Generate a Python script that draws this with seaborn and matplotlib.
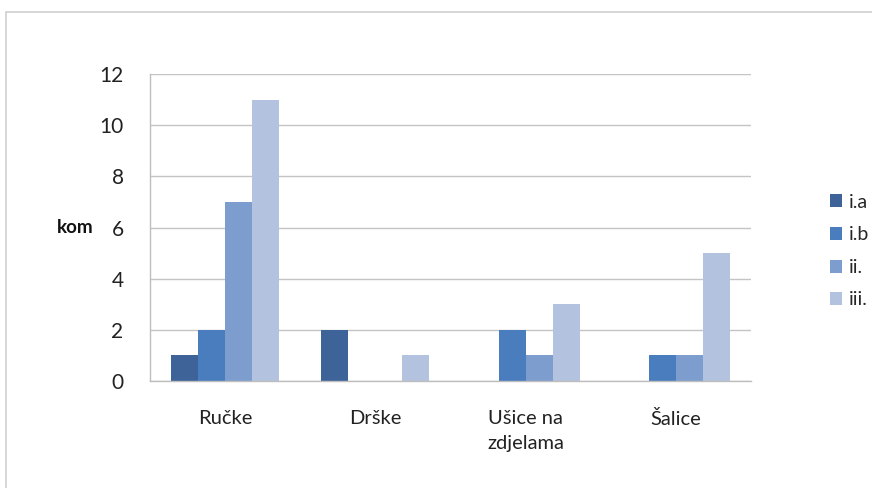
import matplotlib
matplotlib.use("Agg")
import matplotlib.pyplot as plt
from matplotlib.patches import Rectangle, Patch
import seaborn as sns
import pandas as pd

categories = ["Ručke", "Drške", "Ušice na\nzdjelama", "Šalice"]
series = ["i.a", "i.b", "ii.", "iii."]
values = {
    "i.a": [1, 2, 0, 0],
    "i.b": [2, 0, 2, 1],
    "ii.": [7, 0, 1, 1],
    "iii.": [11, 1, 3, 5],
}
colors = ["#3D6399", "#4A7DBE", "#7E9DCF", "#B3C2DE"]
yticks = [0, 2, 4, 6, 8, 10, 12]

rows = [(c, s, values[s][i]) for s in series for i, c in enumerate(categories)]
df = pd.DataFrame(rows, columns=["kategorija", "serija", "kom"])

sns.set_style("white")
plt.rcParams["font.family"] = ["Lato", "DejaVu Sans"]

fig = plt.figure(figsize=(8.72, 4.88), dpi=100)
ax = fig.add_axes([150 / 872, 1 - 381 / 488, 601 / 872, 307 / 488])

sns.barplot(data=df, x="kategorija", y="kom", hue="serija", order=categories,
            hue_order=series, palette=colors, width=0.72, saturation=1,
            legend=False, ax=ax, linewidth=0)

ax.set_ylim(0, 12)
ax.set_xlim(-0.5, len(categories) - 0.5)
ax.set_yticks(yticks)
ax.set_yticklabels([str(t) for t in yticks])
ax.yaxis.grid(True, color="#C4C4C4", linewidth=1)
ax.set_axisbelow(True)
for side in ("top", "right"):
    ax.spines[side].set_visible(False)
for side in ("left", "bottom"):
    ax.spines[side].set_color("#BDBDBD")
    ax.spines[side].set_linewidth(1)

ax.set_xlabel("")
ax.set_ylabel("kom", rotation=0, fontsize=13.5, fontweight="bold", color="#111111",
              ha="center", va="center")
ax.yaxis.set_label_coords(-75 / 601, 0.5)

ax.tick_params(axis="y", length=5, width=1, color="#BDBDBD", pad=14,
               labelsize=15, labelcolor="#222222")
ax.tick_params(axis="x", which="major", length=0, pad=21,
               labelsize=14.5, labelcolor="#222222")
for lbl in ax.get_xticklabels():
    lbl.set_linespacing(1.55)
ax.set_xticks([i - 0.5 for i in range(len(categories) + 1)], minor=True)
ax.tick_params(axis="x", which="minor", length=5, width=1, color="#BDBDBD")

# chart area frame
fig.patches.append(Rectangle((6 / 872, -0.01), 2, 1 - 12 / 488 + 0.01,
                             transform=fig.transFigure, fill=False,
                             edgecolor="#D0D0D0", linewidth=1.2))

handles = [Patch(facecolor=c, edgecolor="none") for c in colors]
fig.legend(handles, series, loc="upper left",
           bbox_to_anchor=(822 / 872, 1 - 186 / 488), frameon=False,
           handlelength=0.65, handleheight=0.65, handletextpad=0.35,
           labelspacing=0.8, fontsize=14, borderaxespad=0)

fig.savefig("out.png", dpi=100, facecolor="white")
